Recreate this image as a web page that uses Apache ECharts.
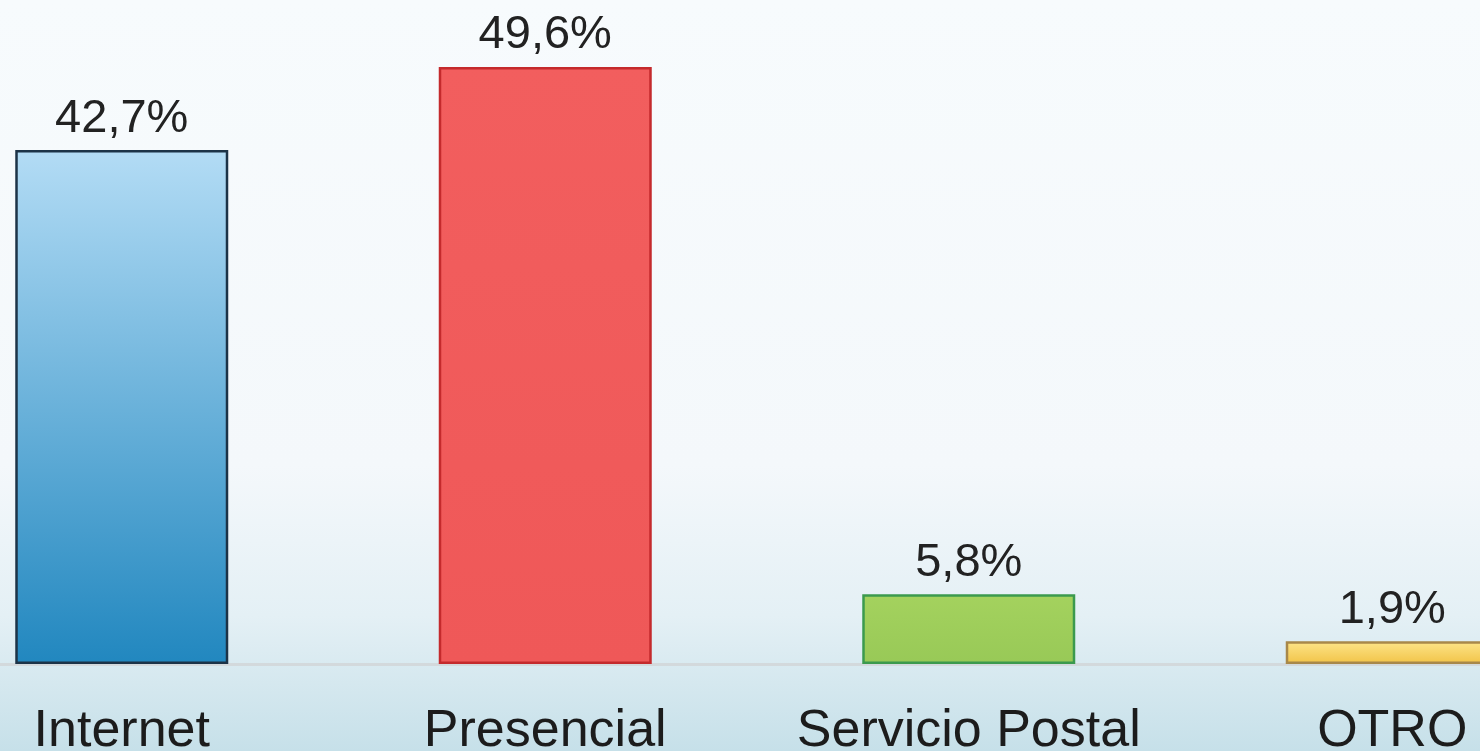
<!DOCTYPE html>
<html>
<head>
<meta charset="utf-8">
<title>Canal</title>
<script src="https://cdn.jsdelivr.net/npm/echarts@6/dist/echarts.min.js"></script>
<style>
  html, body {
    margin: 0;
    padding: 0;
    width: 1480px;
    height: 751px;
    overflow: hidden;
  }
  #chart {
    width: 1480px;
    height: 751px;
    background: linear-gradient(to bottom, #f7fbfd 0%, #f4f8fb 62%, #e4f0f5 82%, #c6e0e9 100%);
  }
</style>
</head>
<body>
<div id="chart"></div>
<script>
// datos
const categorias = ['Internet', 'Presencial', 'Servicio Postal', 'OTRO'];
const porcentajes = [42.7, 49.6, 5.8, 1.9];

// estilos de cada barra (arriba -> abajo, borde)
const coloresBarra = [
  ['#b3dcf5', '#2187bf', '#1c3347'],
  ['#f25e5e', '#ef5858', '#c42a2c'],
  ['#a4d25e', '#98c957', '#3b9a4e'],
  ['#fde58a', '#f2c347', '#a8884a']
];

const chart = echarts.init(document.getElementById('chart'), null, { renderer: 'canvas' });

const datosSerie = porcentajes.map((v, i) => ({
  value: v,
  itemStyle: {
    color: new echarts.graphic.LinearGradient(0, 0, 0, 1, [
      { offset: 0, color: coloresBarra[i][0] },
      { offset: 1, color: coloresBarra[i][1] }
    ]),
    borderColor: coloresBarra[i][2],
    borderWidth: 2.5
  }
}));

chart.setOption({
  backgroundColor: 'transparent',
  animation: false,
  grid: {
    left: -90,
    width: 1694,
    top: 2,
    height: 662,
    containLabel: false,
    outerBoundsMode: 'none'
  },
  xAxis: {
    type: 'category',
    data: categorias,
    axisLine: { show: true, lineStyle: { color: '#d3d9dc', width: 3 } },
    axisTick: { show: false },
    axisLabel: {
      interval: 0,
      hideOverlap: false,
      margin: 42,
      fontSize: 52,
      color: '#1c1c1c',
      fontFamily: 'Liberation Sans, Arial, sans-serif'
    }
  },
  yAxis: {
    type: 'value',
    min: 0,
    max: 55,
    show: false,
    splitLine: { show: false }
  },
  series: [
    {
      type: 'bar',
      barWidth: 213,
      data: datosSerie,
      label: {
        show: true,
        position: 'top',
        distance: 8,
        fontSize: 47,
        color: '#222222',
        fontFamily: 'Liberation Sans, Arial, sans-serif',
        formatter: p => p.value.toFixed(1).replace('.', ',') + '%'
      }
    }
  ]
});
</script>
</body>
</html>
